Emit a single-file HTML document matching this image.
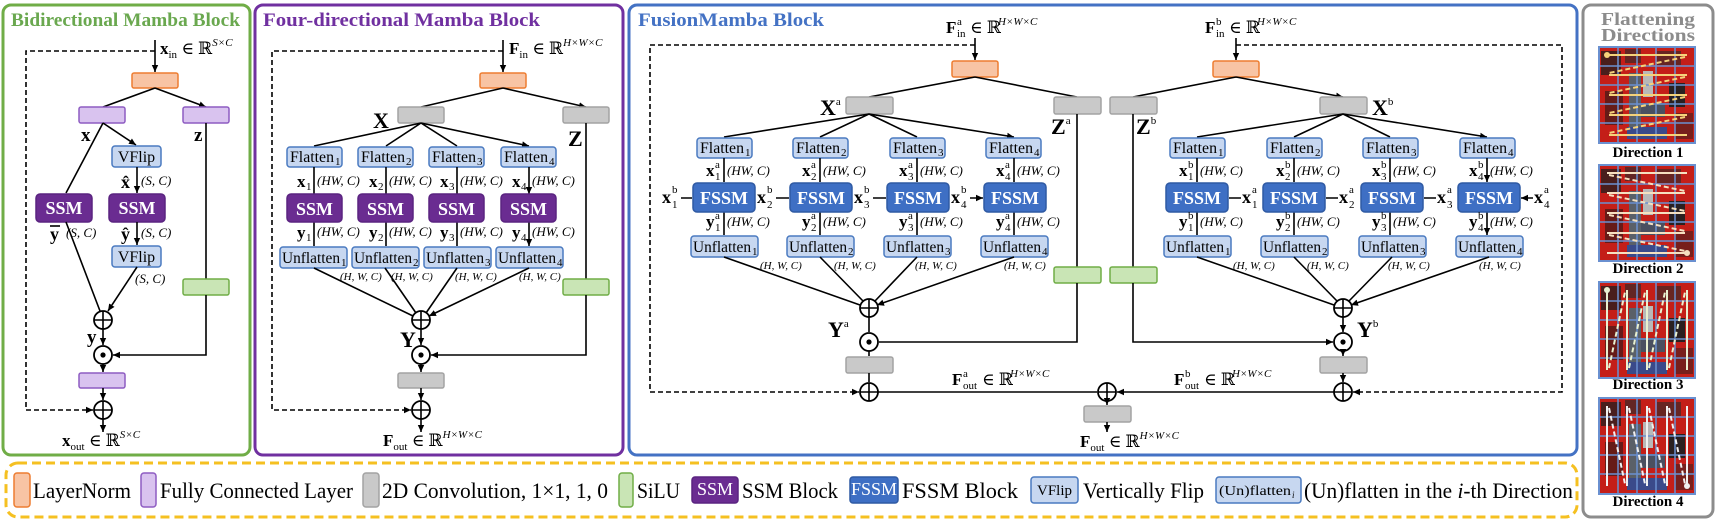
<!DOCTYPE html>
<html><head><meta charset="utf-8"><style>
body{margin:0;background:#fff}
svg{display:block}
text{font-family:"Liberation Serif","DejaVu Serif",serif;fill:#000}
.m{font-size:17px}
.b{font-weight:bold}
.s{font-size:11px}
.i{font-style:italic}
.dim{font-size:13px;font-style:italic}
.ln{fill:#f8c4a4;stroke:#ed7d31;stroke-width:1.5}
.fc{fill:#d9c3ef;stroke:#8e5cc2;stroke-width:1.5}
.cv{fill:#c9c9c9;stroke:#a3a3a3;stroke-width:1.5}
.si{fill:#c9e5b5;stroke:#70ad47;stroke-width:1.5}
.ssm{fill:#6a2c91;stroke:#5a2380;stroke-width:1.5}
.fs{fill:#3e6fc4;stroke:#2f5aa3;stroke-width:1.5}
.lb{fill:#c7d7f0;stroke:#4a7ac0;stroke-width:1.5}
.w{fill:#fff;font-weight:bold;font-size:18px}
.bt{font-size:16px}
.l{stroke:#000;stroke-width:1.6;fill:none}
.a{stroke:#000;stroke-width:1.6;fill:none;marker-end:url(#ar)}
.da{stroke:#000;stroke-width:1.6;fill:none;stroke-dasharray:5,3;marker-end:url(#ar)}
.c{fill:#fff;stroke:#000;stroke-width:1.8}
</style></head><body>
<svg width="1717" height="522" viewBox="0 0 1717 522" xmlns="http://www.w3.org/2000/svg">
<defs>
<marker id="ar" markerWidth="8" markerHeight="8" refX="7" refY="4" orient="auto" markerUnits="userSpaceOnUse"><path d="M0,0.8 L7,4 L0,7.2z" fill="#000"/></marker>
<g id="plus"><circle class="c" r="9"/><path d="M-9,0H9M0,-9V9" stroke="#000" stroke-width="1.6"/></g>
<g id="dot"><circle class="c" r="9"/><circle r="2.6" fill="#000"/></g>
<g id="img">
<rect width="96" height="96" fill="#c41e18"/>
<rect x="2" y="4" width="20" height="24" fill="#2a1e1e" opacity=".8"/>
<rect x="26" y="2" width="16" height="14" fill="#3a2a2a" opacity=".7"/>
<rect x="30" y="26" width="12" height="62" fill="#5a6068"/>
<rect x="44" y="24" width="10" height="26" fill="#b8b8b8"/>
<rect x="42" y="56" width="24" height="14" fill="#4a5060"/>
<rect x="28" y="80" width="40" height="12" fill="#3a4a8a"/>
<rect x="70" y="36" width="16" height="24" fill="#2a2020"/>
<rect x="6" y="44" width="18" height="34" fill="#1a1a1a" opacity=".55"/>
<rect x="58" y="4" width="24" height="14" fill="#2a2a2a" opacity=".6"/>
<rect x="76" y="66" width="18" height="26" fill="#2a2020" opacity=".5"/>
<path d="M19,0V96M38,0V96M57,0V96M76,0V96M0,19H96M0,38H96M0,57H96M0,76H96" stroke="#6a90d0" stroke-width="1.5"/>
<rect width="96" height="96" fill="none" stroke="#6a90d0" stroke-width="2"/>
</g>
</defs>

<!-- panels -->
<rect x="3" y="5" width="247" height="450" rx="8" fill="none" stroke="#70ad47" stroke-width="3"/>
<rect x="255" y="5" width="368" height="450" rx="8" fill="none" stroke="#7030a0" stroke-width="3"/>
<rect x="629" y="5" width="948" height="450" rx="8" fill="none" stroke="#4472c4" stroke-width="3"/>
<rect x="1583" y="5" width="130" height="512" rx="8" fill="none" stroke="#8c8c8c" stroke-width="3"/>
<rect x="6" y="463" width="1571" height="54" rx="12" fill="none" stroke="#f5c021" stroke-width="3" stroke-dasharray="9,5"/>

<text x="11" y="26" font-size="19" font-weight="bold" style="fill:#6aa84f" textLength="229" lengthAdjust="spacingAndGlyphs">Bidirectional Mamba Block</text>
<text x="263" y="26" font-size="19" font-weight="bold" style="fill:#7030a0" textLength="277" lengthAdjust="spacingAndGlyphs">Four-directional Mamba Block</text>
<text x="638" y="26" font-size="19" font-weight="bold" style="fill:#4472c4" textLength="186" lengthAdjust="spacingAndGlyphs">FusionMamba Block</text>
<text x="1648" y="25" font-size="18" font-weight="bold" text-anchor="middle" style="fill:#8c8c8c" textLength="94" lengthAdjust="spacingAndGlyphs">Flattening</text>
<text x="1648" y="41" font-size="18" font-weight="bold" text-anchor="middle" style="fill:#8c8c8c" textLength="94" lengthAdjust="spacingAndGlyphs">Directions</text>

<!-- ============ GREEN PANEL ============ -->
<path class="a" d="M155,40V72"/>
<text x="160" y="54" class="m"><tspan class="b">x</tspan><tspan class="s" dy="4">in</tspan><tspan dy="-4"> ∈ ℝ</tspan><tspan class="s i" dy="-8">S×C</tspan></text>
<path class="da" d="M155,51H26V410H93"/>
<rect class="ln" x="132" y="73" width="46" height="15" rx="2"/>
<path class="a" d="M155,88L103,107M155,88L206,107"/>
<rect class="fc" x="79" y="107" width="46" height="16" rx="2"/>
<rect class="fc" x="183" y="107" width="46" height="16" rx="2"/>
<text x="81" y="141" font-size="19" class="b">x</text>
<text x="194" y="141" font-size="19" class="b">z</text>
<path class="a" d="M103,123L66,193M103,123L136,145"/>
<rect class="lb" x="112" y="146" width="49" height="21" rx="3"/>
<text x="136.5" y="162" class="bt" text-anchor="middle">VFlip</text>
<path class="a" d="M137,167V193"/>
<text x="121" y="188" font-size="18" class="b">x̂</text>
<text x="141" y="185" class="dim">(S, C)</text>
<rect class="ssm" x="36" y="194" width="56" height="28" rx="4"/>
<text x="64" y="214" class="w" text-anchor="middle">SSM</text>
<rect class="ssm" x="109" y="194" width="56" height="28" rx="4"/>
<text x="137" y="214" class="w" text-anchor="middle">SSM</text>
<text x="50" y="240" font-size="18" class="b">y</text><path d="M50,226H60" stroke="#000" stroke-width="1.6"/>
<text x="66" y="237" class="dim">(S, C)</text>
<text x="121" y="240" font-size="18" class="b">ŷ</text>
<text x="141" y="237" class="dim">(S, C)</text>
<path class="a" d="M137,222V245"/>
<rect class="lb" x="112" y="246" width="49" height="21" rx="3"/>
<text x="136.5" y="262" class="bt" text-anchor="middle">VFlip</text>
<text x="135" y="283" class="dim">(S, C)</text>
<path class="a" d="M66,222L100,311M137,267L108,311"/>
<path class="l" d="M206,123V279"/>
<rect class="si" x="183" y="279" width="46" height="16" rx="2"/>
<path class="a" d="M206,295V355H113"/>
<use href="#plus" x="103" y="320"/>
<path class="a" d="M103,329V345"/>
<text x="87" y="343" font-size="19" class="b">y</text>
<use href="#dot" x="103" y="355"/>
<path class="a" d="M103,364V372"/>
<rect class="fc" x="79" y="373" width="46" height="15" rx="2"/>
<path class="a" d="M103,388V400"/>
<use href="#plus" x="103" y="410"/>
<path class="a" d="M103,419V432"/>
<text x="62" y="446" class="m"><tspan class="b">x</tspan><tspan class="s" dy="4">out</tspan><tspan dy="-4"> ∈ ℝ</tspan><tspan class="s i" dy="-8">S×C</tspan></text>

<!-- ============ PURPLE PANEL ============ -->
<path class="a" d="M503,40V72"/>
<text x="509" y="54" class="m"><tspan class="b">F</tspan><tspan class="s" dy="4">in</tspan><tspan dy="-4"> ∈ ℝ</tspan><tspan class="s i" dy="-8">H×W×C</tspan></text>
<path class="da" d="M503,51H272V410H411"/>
<rect class="ln" x="480" y="73" width="46" height="15" rx="2"/>
<path class="a" d="M503,88L421,107M503,88L586,107"/>
<rect class="cv" x="398" y="107" width="46" height="16" rx="2"/>
<rect class="cv" x="563" y="107" width="46" height="16" rx="2"/>
<text x="373" y="128" font-size="22" class="b">X</text>
<text x="568" y="146" font-size="22" class="b">Z</text>
<path class="a" d="M421,123L314,146M421,123L386,146M421,123L457,146M421,123L529,146"/>
<g class="bt">
<rect class="lb" x="287" y="147" width="55" height="20" rx="3"/><text x="290" y="162" textLength="44" lengthAdjust="spacingAndGlyphs">Flatten</text><text x="335" y="165" class="s">1</text>
<rect class="lb" x="358" y="147" width="55" height="20" rx="3"/><text x="361" y="162" textLength="44" lengthAdjust="spacingAndGlyphs">Flatten</text><text x="406" y="165" class="s">2</text>
<rect class="lb" x="429" y="147" width="55" height="20" rx="3"/><text x="432" y="162" textLength="44" lengthAdjust="spacingAndGlyphs">Flatten</text><text x="477" y="165" class="s">3</text>
<rect class="lb" x="501" y="147" width="55" height="20" rx="3"/><text x="504" y="162" textLength="44" lengthAdjust="spacingAndGlyphs">Flatten</text><text x="549" y="165" class="s">4</text>
</g>
<path class="a" d="M314,167V194M386,167V194M457,167V194M529,167V194"/>
<path class="a" d="M314,222V246M386,222V246M457,222V246M529,222V246"/>
<g>
<text x="297" y="187" class="m b">x</text><text x="306" y="190" class="s">1</text><text x="317" y="185" class="dim">(HW, C)</text>
<text x="369" y="187" class="m b">x</text><text x="378" y="190" class="s">2</text><text x="389" y="185" class="dim">(HW, C)</text>
<text x="440" y="187" class="m b">x</text><text x="449" y="190" class="s">3</text><text x="460" y="185" class="dim">(HW, C)</text>
<text x="512" y="187" class="m b">x</text><text x="521" y="190" class="s">4</text><text x="532" y="185" class="dim">(HW, C)</text>
<text x="297" y="238" class="m b">y</text><text x="306" y="241" class="s">1</text><text x="317" y="236" class="dim">(HW, C)</text>
<text x="369" y="238" class="m b">y</text><text x="378" y="241" class="s">2</text><text x="389" y="236" class="dim">(HW, C)</text>
<text x="440" y="238" class="m b">y</text><text x="449" y="241" class="s">3</text><text x="460" y="236" class="dim">(HW, C)</text>
<text x="512" y="238" class="m b">y</text><text x="521" y="241" class="s">4</text><text x="532" y="236" class="dim">(HW, C)</text>
</g>
<rect class="ssm" x="287" y="194" width="55" height="28" rx="4"/><text x="314.5" y="215" class="w" text-anchor="middle">SSM</text>
<rect class="ssm" x="358" y="194" width="55" height="28" rx="4"/><text x="385.5" y="215" class="w" text-anchor="middle">SSM</text>
<rect class="ssm" x="429" y="194" width="55" height="28" rx="4"/><text x="456.5" y="215" class="w" text-anchor="middle">SSM</text>
<rect class="ssm" x="501" y="194" width="55" height="28" rx="4"/><text x="528.5" y="215" class="w" text-anchor="middle">SSM</text>
<g class="bt">
<rect class="lb" x="280" y="247" width="67" height="21" rx="3"/><text x="282" y="263" textLength="58" lengthAdjust="spacingAndGlyphs">Unflatten</text><text x="341" y="266" class="s">1</text>
<rect class="lb" x="352" y="247" width="67" height="21" rx="3"/><text x="354" y="263" textLength="58" lengthAdjust="spacingAndGlyphs">Unflatten</text><text x="413" y="266" class="s">2</text>
<rect class="lb" x="424" y="247" width="67" height="21" rx="3"/><text x="426" y="263" textLength="58" lengthAdjust="spacingAndGlyphs">Unflatten</text><text x="485" y="266" class="s">3</text>
<rect class="lb" x="496" y="247" width="67" height="21" rx="3"/><text x="498" y="263" textLength="58" lengthAdjust="spacingAndGlyphs">Unflatten</text><text x="557" y="266" class="s">4</text>
</g>
<g font-size="11" font-style="italic">
<text x="340" y="280">(H, W, C)</text><text x="391" y="280">(H, W, C)</text><text x="455" y="280">(H, W, C)</text><text x="519" y="280">(H, W, C)</text>
</g>
<path class="a" d="M314,268L413,316M385,268L416,313M457,268L426,313M529,268L429,316"/>
<path class="l" d="M586,123V279"/>
<rect class="si" x="563" y="279" width="46" height="16" rx="2"/>
<path class="a" d="M586,295V355H431"/>
<use href="#plus" x="421" y="320"/>
<path class="a" d="M421,329V345"/>
<text x="400" y="347" font-size="22" class="b">Y</text>
<use href="#dot" x="421" y="355"/>
<path class="a" d="M421,364V372"/>
<rect class="cv" x="398" y="373" width="46" height="15" rx="2"/>
<path class="a" d="M421,388V400"/>
<use href="#plus" x="421" y="410"/>
<path class="a" d="M421,419V432"/>
<text x="383" y="446" class="m"><tspan class="b">F</tspan><tspan class="s" dy="4">out</tspan><tspan dy="-4"> ∈ ℝ</tspan><tspan class="s i" dy="-8">H×W×C</tspan></text>

<!-- ============ BLUE PANEL ============ -->
<text x="946" y="33" class="m b">F</text><text x="957" y="25" class="s">a</text><text x="957" y="37" class="s">in</text><text x="970" y="33" class="m">∈ ℝ</text><text x="998" y="25" class="s i">H×W×C</text>
<text x="1205" y="33" class="m b">F</text><text x="1216" y="25" class="s">b</text><text x="1216" y="37" class="s">in</text><text x="1229" y="33" class="m">∈ ℝ</text><text x="1257" y="25" class="s i">H×W×C</text>
<path class="a" d="M975,38V60"/>
<path class="a" d="M1236,38V60"/>
<path class="da" d="M975,45H650V392H859"/>
<path class="da" d="M1236,45H1562V392H1353"/>
<rect class="ln" x="952" y="61" width="46" height="16" rx="2"/>
<rect class="ln" x="1213" y="61" width="46" height="16" rx="2"/>
<path class="a" d="M975,77L869,97M975,77L1077,97M1236,77L1133,97M1236,77L1343,97"/>
<rect class="cv" x="846" y="97" width="47" height="17" rx="2"/>
<rect class="cv" x="1054" y="97" width="47" height="17" rx="2"/>
<rect class="cv" x="1110" y="97" width="47" height="17" rx="2"/>
<rect class="cv" x="1320" y="97" width="47" height="17" rx="2"/>
<text x="820" y="115" font-size="22" class="b">X<tspan class="s" font-weight="normal" dy="-10">a</tspan></text>
<text x="1051" y="134" font-size="22" class="b">Z<tspan class="s" font-weight="normal" dy="-10">a</tspan></text>
<text x="1136" y="134" font-size="22" class="b">Z<tspan class="s" font-weight="normal" dy="-10">b</tspan></text>
<text x="1372" y="115" font-size="22" class="b">X<tspan class="s" font-weight="normal" dy="-10">b</tspan></text>
<path class="a" d="M869,114L724,137M869,114L820,137M869,114L917,137M869,114L1014,137"/>
<path class="a" d="M1343,114L1197,137M1343,114L1294,137M1343,114L1390,137M1343,114L1487,137"/>
<g class="bt">
<rect class="lb" x="697" y="138" width="55" height="20" rx="3"/><text x="700" y="153" textLength="44" lengthAdjust="spacingAndGlyphs">Flatten</text><text x="745" y="156" class="s">1</text>
<rect class="lb" x="793" y="138" width="55" height="20" rx="3"/><text x="796" y="153" textLength="44" lengthAdjust="spacingAndGlyphs">Flatten</text><text x="841" y="156" class="s">2</text>
<rect class="lb" x="890" y="138" width="55" height="20" rx="3"/><text x="893" y="153" textLength="44" lengthAdjust="spacingAndGlyphs">Flatten</text><text x="938" y="156" class="s">3</text>
<rect class="lb" x="986" y="138" width="55" height="20" rx="3"/><text x="989" y="153" textLength="44" lengthAdjust="spacingAndGlyphs">Flatten</text><text x="1034" y="156" class="s">4</text>
<rect class="lb" x="1170" y="138" width="55" height="20" rx="3"/><text x="1173" y="153" textLength="44" lengthAdjust="spacingAndGlyphs">Flatten</text><text x="1218" y="156" class="s">1</text>
<rect class="lb" x="1267" y="138" width="55" height="20" rx="3"/><text x="1270" y="153" textLength="44" lengthAdjust="spacingAndGlyphs">Flatten</text><text x="1315" y="156" class="s">2</text>
<rect class="lb" x="1363" y="138" width="55" height="20" rx="3"/><text x="1366" y="153" textLength="44" lengthAdjust="spacingAndGlyphs">Flatten</text><text x="1411" y="156" class="s">3</text>
<rect class="lb" x="1460" y="138" width="55" height="20" rx="3"/><text x="1463" y="153" textLength="44" lengthAdjust="spacingAndGlyphs">Flatten</text><text x="1508" y="156" class="s">4</text>
</g>
<path class="a" d="M724,158V182M820,158V182M917,158V182M1014,158V182M1197,158V182M1294,158V182M1390,158V182M1487,158V182"/>
<path class="a" d="M724,212V235M820,212V235M917,212V235M1014,212V235M1197,212V235M1294,212V235M1390,212V235M1487,212V235"/>
<g>
<rect class="fs" x="693" y="183" width="62" height="29" rx="4"/><text x="724" y="204" class="w" text-anchor="middle">FSSM</text>
<rect class="fs" x="790" y="183" width="62" height="29" rx="4"/><text x="821" y="204" class="w" text-anchor="middle">FSSM</text>
<rect class="fs" x="887" y="183" width="62" height="29" rx="4"/><text x="918" y="204" class="w" text-anchor="middle">FSSM</text>
<rect class="fs" x="984" y="183" width="62" height="29" rx="4"/><text x="1015" y="204" class="w" text-anchor="middle">FSSM</text>
<rect class="fs" x="1166" y="183" width="62" height="29" rx="4"/><text x="1197" y="204" class="w" text-anchor="middle">FSSM</text>
<rect class="fs" x="1263" y="183" width="62" height="29" rx="4"/><text x="1294" y="204" class="w" text-anchor="middle">FSSM</text>
<rect class="fs" x="1361" y="183" width="62" height="29" rx="4"/><text x="1392" y="204" class="w" text-anchor="middle">FSSM</text>
<rect class="fs" x="1458" y="183" width="62" height="29" rx="4"/><text x="1489" y="204" class="w" text-anchor="middle">FSSM</text>
</g>
<path class="a" d="M681,198H692M776,198H789M873,198H886M970,198H983"/>
<path class="a" d="M1241,198H1229M1338,198H1326M1436,198H1424M1533,198H1521"/>
<g>
<text x="662" y="203" font-size="18" class="b">x</text><text x="672" y="193" class="s">b</text><text x="672" y="208" class="s">1</text>
<text x="757" y="203" font-size="18" class="b">x</text><text x="767" y="193" class="s">b</text><text x="767" y="208" class="s">2</text>
<text x="854" y="203" font-size="18" class="b">x</text><text x="864" y="193" class="s">b</text><text x="864" y="208" class="s">3</text>
<text x="951" y="203" font-size="18" class="b">x</text><text x="961" y="193" class="s">b</text><text x="961" y="208" class="s">4</text>
<text x="1242" y="203" font-size="18" class="b">x</text><text x="1252" y="193" class="s">a</text><text x="1252" y="208" class="s">1</text>
<text x="1339" y="203" font-size="18" class="b">x</text><text x="1349" y="193" class="s">a</text><text x="1349" y="208" class="s">2</text>
<text x="1437" y="203" font-size="18" class="b">x</text><text x="1447" y="193" class="s">a</text><text x="1447" y="208" class="s">3</text>
<text x="1534" y="203" font-size="18" class="b">x</text><text x="1544" y="193" class="s">a</text><text x="1544" y="208" class="s">4</text>
</g>
<g>
<text x="706" y="176" class="m b">x</text><text x="715" y="168" class="s">a</text><text x="715" y="180" class="s">1</text>
<text x="802" y="176" class="m b">x</text><text x="811" y="168" class="s">a</text><text x="811" y="180" class="s">2</text>
<text x="899" y="176" class="m b">x</text><text x="908" y="168" class="s">a</text><text x="908" y="180" class="s">3</text>
<text x="996" y="176" class="m b">x</text><text x="1005" y="168" class="s">a</text><text x="1005" y="180" class="s">4</text>
<text x="706" y="227" class="m b">y</text><text x="715" y="219" class="s">a</text><text x="715" y="231" class="s">1</text>
<text x="802" y="227" class="m b">y</text><text x="811" y="219" class="s">a</text><text x="811" y="231" class="s">2</text>
<text x="899" y="227" class="m b">y</text><text x="908" y="219" class="s">a</text><text x="908" y="231" class="s">3</text>
<text x="996" y="227" class="m b">y</text><text x="1005" y="219" class="s">a</text><text x="1005" y="231" class="s">4</text>
<text x="1179" y="176" class="m b">x</text><text x="1188" y="168" class="s">b</text><text x="1188" y="180" class="s">1</text>
<text x="1276" y="176" class="m b">x</text><text x="1285" y="168" class="s">b</text><text x="1285" y="180" class="s">2</text>
<text x="1372" y="176" class="m b">x</text><text x="1381" y="168" class="s">b</text><text x="1381" y="180" class="s">3</text>
<text x="1469" y="176" class="m b">x</text><text x="1478" y="168" class="s">b</text><text x="1478" y="180" class="s">4</text>
<text x="1179" y="227" class="m b">y</text><text x="1188" y="219" class="s">b</text><text x="1188" y="231" class="s">1</text>
<text x="1276" y="227" class="m b">y</text><text x="1285" y="219" class="s">b</text><text x="1285" y="231" class="s">2</text>
<text x="1372" y="227" class="m b">y</text><text x="1381" y="219" class="s">b</text><text x="1381" y="231" class="s">3</text>
<text x="1469" y="227" class="m b">y</text><text x="1478" y="219" class="s">b</text><text x="1478" y="231" class="s">4</text>
</g>
<g class="dim">
<text x="727" y="175">(HW, C)</text><text x="823" y="175">(HW, C)</text><text x="920" y="175">(HW, C)</text><text x="1017" y="175">(HW, C)</text>
<text x="727" y="226">(HW, C)</text><text x="823" y="226">(HW, C)</text><text x="920" y="226">(HW, C)</text><text x="1017" y="226">(HW, C)</text>
<text x="1200" y="175">(HW, C)</text><text x="1297" y="175">(HW, C)</text><text x="1393" y="175">(HW, C)</text><text x="1490" y="175">(HW, C)</text>
<text x="1200" y="226">(HW, C)</text><text x="1297" y="226">(HW, C)</text><text x="1393" y="226">(HW, C)</text><text x="1490" y="226">(HW, C)</text>
</g>
<g class="bt">
<rect class="lb" x="691" y="236" width="67" height="21" rx="3"/><text x="693" y="252" textLength="58" lengthAdjust="spacingAndGlyphs">Unflatten</text><text x="752" y="255" class="s">1</text>
<rect class="lb" x="787" y="236" width="67" height="21" rx="3"/><text x="789" y="252" textLength="58" lengthAdjust="spacingAndGlyphs">Unflatten</text><text x="848" y="255" class="s">2</text>
<rect class="lb" x="884" y="236" width="67" height="21" rx="3"/><text x="886" y="252" textLength="58" lengthAdjust="spacingAndGlyphs">Unflatten</text><text x="945" y="255" class="s">3</text>
<rect class="lb" x="981" y="236" width="67" height="21" rx="3"/><text x="983" y="252" textLength="58" lengthAdjust="spacingAndGlyphs">Unflatten</text><text x="1042" y="255" class="s">4</text>
<rect class="lb" x="1164" y="236" width="67" height="21" rx="3"/><text x="1166" y="252" textLength="58" lengthAdjust="spacingAndGlyphs">Unflatten</text><text x="1225" y="255" class="s">1</text>
<rect class="lb" x="1261" y="236" width="67" height="21" rx="3"/><text x="1263" y="252" textLength="58" lengthAdjust="spacingAndGlyphs">Unflatten</text><text x="1322" y="255" class="s">2</text>
<rect class="lb" x="1359" y="236" width="67" height="21" rx="3"/><text x="1361" y="252" textLength="58" lengthAdjust="spacingAndGlyphs">Unflatten</text><text x="1420" y="255" class="s">3</text>
<rect class="lb" x="1456" y="236" width="67" height="21" rx="3"/><text x="1458" y="252" textLength="58" lengthAdjust="spacingAndGlyphs">Unflatten</text><text x="1517" y="255" class="s">4</text>
</g>
<g font-size="11" font-style="italic">
<text x="760" y="269">(H, W, C)</text><text x="834" y="269">(H, W, C)</text><text x="915" y="269">(H, W, C)</text><text x="1004" y="269">(H, W, C)</text>
<text x="1233" y="269">(H, W, C)</text><text x="1307" y="269">(H, W, C)</text><text x="1388" y="269">(H, W, C)</text><text x="1479" y="269">(H, W, C)</text>
</g>
<path class="a" d="M724,257L860,305M820,257L863,301M917,257L875,301M1014,257L877,305"/>
<path class="a" d="M1197,257L1334,305M1294,257L1337,301M1392,257L1349,301M1489,257L1351,305"/>
<path class="l" d="M1077,114V267M1133,114V267"/>
<rect class="si" x="1054" y="267" width="47" height="16" rx="2"/>
<rect class="si" x="1110" y="267" width="47" height="16" rx="2"/>
<path class="a" d="M1077,283V342H879M1133,283V342H1333"/>
<use href="#plus" x="869" y="308"/>
<use href="#plus" x="1343" y="308"/>
<path class="a" d="M869,317V332M1343,317V332"/>
<text x="828" y="337" font-size="22" class="b">Y<tspan class="s" font-weight="normal" dy="-10">a</tspan></text>
<text x="1357" y="337" font-size="22" class="b">Y<tspan class="s" font-weight="normal" dy="-10">b</tspan></text>
<use href="#dot" x="869" y="342"/>
<use href="#dot" x="1343" y="342"/>
<path class="a" d="M869,351V356M1343,351V356"/>
<rect class="cv" x="846" y="357" width="47" height="16" rx="2"/>
<rect class="cv" x="1320" y="357" width="47" height="16" rx="2"/>
<path class="a" d="M869,373V382M1343,373V382"/>
<use href="#plus" x="869" y="392"/>
<use href="#plus" x="1343" y="392"/>
<path class="a" d="M878,392H1097M1334,392H1117"/>
<use href="#plus" x="1107" y="392"/>
<text x="952" y="385" class="m b">F</text><text x="963" y="377" class="s">a</text><text x="963" y="389" class="s">out</text><text x="982" y="385" class="m">∈ ℝ</text><text x="1010" y="377" class="s i">H×W×C</text>
<text x="1174" y="385" class="m b">F</text><text x="1185" y="377" class="s">b</text><text x="1185" y="389" class="s">out</text><text x="1204" y="385" class="m">∈ ℝ</text><text x="1232" y="377" class="s i">H×W×C</text>
<path class="a" d="M1107,401V405"/>
<rect class="cv" x="1084" y="406" width="47" height="16" rx="2"/>
<path class="a" d="M1107,422V432"/>
<text x="1080" y="447" class="m"><tspan class="b">F</tspan><tspan class="s" dy="4">out</tspan><tspan dy="-4"> ∈ ℝ</tspan><tspan class="s i" dy="-8">H×W×C</tspan></text>

<!-- ============ DIRECTIONS ============ -->
<g transform="translate(1599,47)"><use href="#img"/>
<g stroke="#f5d27a" stroke-width="2" fill="none"><path d="M8,8H88"/><path d="M86,10L10,26" stroke-dasharray="5,3"/><path d="M10,28H88"/><path d="M86,30L10,46" stroke-dasharray="5,3"/><path d="M10,48H88"/><path d="M86,50L10,66" stroke-dasharray="5,3"/><path d="M10,68H88"/><path d="M86,70L10,86" stroke-dasharray="5,3"/><path d="M10,88H88"/></g><circle cx="8" cy="8" r="3" fill="#f5d27a"/></g>
<text x="1648" y="157" font-size="15" class="b" text-anchor="middle">Direction 1</text>
<g transform="translate(1599,165)"><use href="#img"/>
<g stroke="#f5e0c0" stroke-width="2" fill="none"><path d="M88,8H8"/><path d="M10,10L86,26" stroke-dasharray="5,3"/><path d="M86,28H8"/><path d="M10,30L86,46" stroke-dasharray="5,3"/><path d="M86,48H8"/><path d="M10,50L86,66" stroke-dasharray="5,3"/><path d="M86,68H8"/><path d="M10,70L86,86" stroke-dasharray="5,3"/><path d="M86,88H8"/></g><circle cx="88" cy="88" r="3" fill="#f5e0c0"/></g>
<text x="1648" y="273" font-size="15" class="b" text-anchor="middle">Direction 2</text>
<g transform="translate(1599,282)"><use href="#img"/>
<g stroke="#e8f0d0" stroke-width="2" fill="none"><path d="M8,8V88"/><path d="M10,86L26,10" stroke-dasharray="5,3"/><path d="M28,8V88"/><path d="M30,86L46,10" stroke-dasharray="5,3"/><path d="M48,8V88"/><path d="M50,86L66,10" stroke-dasharray="5,3"/><path d="M68,8V88"/><path d="M70,86L86,10" stroke-dasharray="5,3"/><path d="M88,8V88"/></g><circle cx="8" cy="8" r="3" fill="#e8f0d0"/></g>
<text x="1648" y="389" font-size="15" class="b" text-anchor="middle">Direction 3</text>
<g transform="translate(1599,398)"><use href="#img"/>
<g stroke="#f0f0f0" stroke-width="2" fill="none"><path d="M8,88V8"/><path d="M10,10L26,86" stroke-dasharray="5,3"/><path d="M28,88V8"/><path d="M30,10L46,86" stroke-dasharray="5,3"/><path d="M48,88V8"/><path d="M50,10L66,86" stroke-dasharray="5,3"/><path d="M68,88V8"/><path d="M70,10L86,86" stroke-dasharray="5,3"/><path d="M88,88V8"/></g><circle cx="88" cy="88" r="3" fill="#f0f0f0"/></g>
<text x="1648" y="506" font-size="15" class="b" text-anchor="middle">Direction 4</text>

<!-- ============ LEGEND ============ -->
<g font-size="22">
<rect class="ln" x="14" y="473" width="16" height="34" rx="3"/><text x="33" y="498" textLength="98" lengthAdjust="spacingAndGlyphs">LayerNorm</text>
<rect class="fc" x="141" y="473" width="15" height="34" rx="3"/><text x="160" y="498" textLength="193" lengthAdjust="spacingAndGlyphs">Fully Connected Layer</text>
<rect class="cv" x="363" y="473" width="16" height="34" rx="3"/><text x="382" y="498" textLength="226" lengthAdjust="spacingAndGlyphs">2D Convolution, 1×1, 1, 0</text>
<rect class="si" x="619" y="473" width="14" height="34" rx="3"/><text x="637" y="498" textLength="43" lengthAdjust="spacingAndGlyphs">SiLU</text>
<rect class="ssm" x="692" y="477" width="46" height="26" rx="3"/><text x="715" y="495" font-size="13" class="w" text-anchor="middle" style="font-weight:normal">SSM</text>
<text x="742" y="498" textLength="96" lengthAdjust="spacingAndGlyphs">SSM Block</text>
<rect class="fs" x="850" y="477" width="48" height="26" rx="3"/><text x="874" y="495" font-size="13" class="w" text-anchor="middle" style="font-weight:normal">FSSM</text>
<text x="902" y="498" textLength="116" lengthAdjust="spacingAndGlyphs">FSSM Block</text>
<rect class="lb" x="1031" y="477" width="47" height="26" rx="3"/><text x="1054.5" y="495" font-size="15" text-anchor="middle">VFlip</text>
<text x="1083" y="498" textLength="121" lengthAdjust="spacingAndGlyphs">Vertically Flip</text>
<rect class="lb" x="1216" y="477" width="85" height="26" rx="3"/><text x="1219" y="495" font-size="14" textLength="72" lengthAdjust="spacingAndGlyphs">(Un)flatten</text><text x="1292" y="498" font-size="9" font-style="italic">i</text>
<text x="1304" y="498" textLength="269" lengthAdjust="spacingAndGlyphs">(Un)flatten in the <tspan font-style="italic">i</tspan>-th Direction</text>
</g>
</svg>
</body></html>
